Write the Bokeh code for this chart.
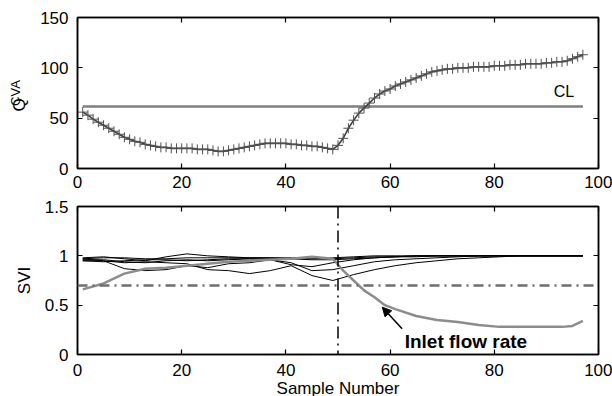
import math
from bokeh.plotting import figure
from bokeh.layouts import column
from bokeh.models import (LinearAxis, FixedTicker, Span, Label, Arrow, NormalHead, Range1d, Title)
from bokeh.embed import file_html
from bokeh.resources import INLINE

# ---------------- data ----------------
samples = list(range(1, 98))
q_cva = [56, 53, 49, 46, 43, 40, 37, 34, 31, 29,
         27, 26, 24, 23, 22, 21, 21, 20, 20, 20,
         20, 20, 19, 19, 19, 18, 17, 17, 18, 19,
         20, 21, 22, 23, 24, 25, 25, 25, 25, 25,
         24, 24, 23, 23, 22, 22, 21, 20, 19, 23,
         30, 40, 48, 55, 60, 65, 70, 74, 77, 79,
         82, 84, 86, 88, 90, 92, 94, 96, 97, 98,
         99, 99, 100, 100, 100, 101, 101, 101, 101, 102,
         102, 102, 103, 103, 103, 104, 104, 104, 104, 105,
         105, 106, 106, 107, 109, 111, 113]
cl_x = [1, 97]
cl_value = 61.5

svi_x = [1, 5, 9, 13, 17, 21, 25, 29, 33, 37, 41, 45, 49, 53, 57, 61, 65, 69, 73, 77, 81, 85, 89, 93, 97]
svi_b1 = [0.97, 0.98, 0.98, 0.97, 0.97, 0.98, 0.98, 0.98, 0.98, 0.98, 0.98, 0.98, 0.97, 0.98, 0.99, 0.99, 1.0, 1.0, 1.0, 1.0, 1.0, 1.0, 1.0, 1.0, 1.0]
svi_b2 = [0.98, 0.99, 0.97, 0.95, 0.99, 1.02, 1.0, 0.99, 0.98, 0.98, 0.97, 0.97, 0.98, 0.99, 1.0, 1.0, 1.0, 1.0, 1.0, 1.0, 1.0, 1.0, 1.0, 1.0, 1.0]
svi_b3 = [0.97, 0.95, 0.87, 0.85, 0.86, 0.90, 0.88, 0.92, 0.93, 0.96, 0.93, 0.85, 0.86, 0.90, 0.94, 0.96, 0.97, 0.98, 0.99, 1.0, 1.0, 1.0, 1.0, 1.0, 1.0]
svi_b4 = [0.95, 0.95, 0.93, 0.94, 0.93, 0.92, 0.86, 0.85, 0.82, 0.85, 0.90, 0.80, 0.75, 0.81, 0.86, 0.90, 0.93, 0.95, 0.97, 0.98, 0.99, 1.0, 1.0, 1.0, 1.0]
svi_b5 = [0.96, 0.96, 0.94, 0.93, 0.95, 0.96, 0.95, 0.96, 0.97, 0.96, 0.91, 0.89, 0.93, 0.96, 0.98, 0.99, 1.0, 1.0, 1.0, 1.0, 1.0, 1.0, 1.0, 1.0, 1.0]
svi_b6 = [0.95, 0.94, 0.95, 0.96, 0.96, 0.95, 0.96, 0.97, 0.97, 0.97, 0.97, 0.96, 0.96, 0.97, 0.98, 0.99, 0.99, 1.0, 1.0, 1.0, 1.0, 1.0, 1.0, 1.0, 1.0]

inlet_x = [1, 5, 9, 13, 17, 21, 25, 29, 33, 37, 41, 45, 49, 51, 53, 55, 57, 59, 61, 65, 69, 73, 77, 81, 85, 89, 93, 95, 97]
inlet_svi = [0.66, 0.72, 0.82, 0.87, 0.88, 0.90, 0.92, 0.94, 0.95, 0.96, 0.97, 0.99, 0.97, 0.85, 0.75, 0.65, 0.58, 0.50, 0.46, 0.39, 0.35, 0.33, 0.30, 0.28, 0.28, 0.28, 0.28, 0.29, 0.34]

svi_limit = 0.70
fault_sample = 50

top_y_ticks = [0, 50, 100, 150]
bot_y_ticks = [0, 0.5, 1, 1.5]
bot_y_labels = ["0", "0.5", "1", "1.5"]
x_ticks = [0, 20, 40, 60, 80, 100]

FONT = "Liberation Sans"
FS = "17px"
NB = "\u00a0"


def style_axes(p, yticks, ylabels=None, xstand=8):
    xa = p.below[0]
    ya = p.left[0]
    for ax in (xa, ya):
        ax.axis_line_width = 1.5
        ax.axis_line_color = "black"
        ax.major_tick_in = 5
        ax.major_tick_out = 0
        ax.minor_tick_line_color = None
        ax.major_tick_line_width = 1.2
        ax.major_label_text_font = FONT
        ax.major_label_text_font_size = FS
        ax.major_label_text_color = "black"
        ax.axis_label_text_font = FONT
        ax.axis_label_text_font_size = FS
        ax.axis_label_text_font_style = "normal"
        ax.axis_label_text_color = "black"
    xa.ticker = FixedTicker(ticks=x_ticks)
    xa.major_label_standoff = xstand
    ya.ticker = FixedTicker(ticks=yticks)
    ya.major_label_standoff = 9
    if ylabels is not None:
        ya.major_label_overrides = {t: l for t, l in zip(yticks, ylabels)}
    top = LinearAxis(ticker=FixedTicker(ticks=x_ticks), major_label_text_alpha=0,
                     major_label_text_font_size="1px", major_tick_in=5, major_tick_out=0,
                     major_label_standoff=0,
                     minor_tick_line_color=None, axis_line_width=1.5, major_tick_line_width=1.2)
    right = LinearAxis(ticker=FixedTicker(ticks=yticks), major_label_text_alpha=0,
                       major_label_text_font_size="1px", major_tick_in=5, major_tick_out=0,
                       major_label_standoff=0,
                       minor_tick_line_color=None, axis_line_width=1.5, major_tick_line_width=1.2)
    p.add_layout(top, "above")
    p.add_layout(right, "right")
    p.xgrid.grid_line_color = None
    p.ygrid.grid_line_color = None
    p.outline_line_color = "black"
    p.outline_line_width = 1.5
    return xa, ya


# ---------------- top figure ----------------
p1 = figure(output_backend="svg", toolbar_location=None,
            frame_width=521, frame_height=151,
            x_range=Range1d(0, 100), y_range=Range1d(0, 150),
            min_border_left=77, min_border_top=17, min_border_bottom=26, min_border_right=14)
xa1, ya1 = style_axes(p1, top_y_ticks, xstand=7)
# y label: "Q" as the axis label, subscript "CVA" as a side title pulled inward
ya1.axis_label = "Q" + NB * 5
ya1.axis_label_standoff = 8
p1.add_layout(Title(text="CVA", align="center", offset=7.5, standoff=-31,
                    text_font=FONT, text_font_size="13px", text_font_style="normal",
                    text_color="black"), "left")

p1.line(cl_x, [cl_value] * len(cl_x), line_color="#7f7f7f", line_width=2.5)
p1.line(samples, q_cva, line_color="#404040", line_width=1.6)
p1.scatter(samples, q_cva, marker="cross", size=10, line_color="#505050", line_width=1)
p1.add_layout(Label(x=91.4, y=76.5, text="CL", text_font=FONT, text_font_size="16px",
                    text_color="black", text_baseline="alphabetic", text_align="left"))

# ---------------- bottom figure ----------------
p2 = figure(output_backend="svg", toolbar_location=None,
            frame_width=521, frame_height=148,
            x_range=Range1d(0, 100), y_range=Range1d(0, 1.5),
            min_border_left=77, min_border_top=12, min_border_bottom=42, min_border_right=14)
xa2, ya2 = style_axes(p2, bot_y_ticks, bot_y_labels, xstand=9)
ya2.axis_label = "SVI"
ya2.axis_label_standoff = 8
xa2.axis_label = "Sample Number"
xa2.axis_label_standoff = 0

for ys in [svi_b1, svi_b2, svi_b3, svi_b4, svi_b5, svi_b6]:
    p2.line(svi_x, ys, line_color="black", line_width=1)
p2.line(inlet_x, inlet_svi, line_color="#8c8c8c", line_width=2.5)

p2.add_layout(Span(location=svi_limit, dimension="width", line_color="#6e6e6e",
                   line_width=2.5, line_dash="10 5 2 5"))
p2.add_layout(Span(location=fault_sample, dimension="height", line_color="black",
                   line_width=1.5, line_dash="12 5 2 5"))
p2.add_layout(Arrow(end=NormalHead(size=9, fill_color="black", line_color="black"),
                    x_start=62.3, y_start=0.26, x_end=58.5, y_end=0.48,
                    line_color="black", line_width=1.5))
p2.add_layout(Label(x=62.8, y=0.13, text="Inlet flow rate", text_font=FONT,
                    text_font_size="19px", text_font_style="bold", text_color="black",
                    text_baseline="alphabetic", text_align="left"))

layout = column(p1, p2, spacing=0)
open("out.html", "w").write(file_html(layout, INLINE))
